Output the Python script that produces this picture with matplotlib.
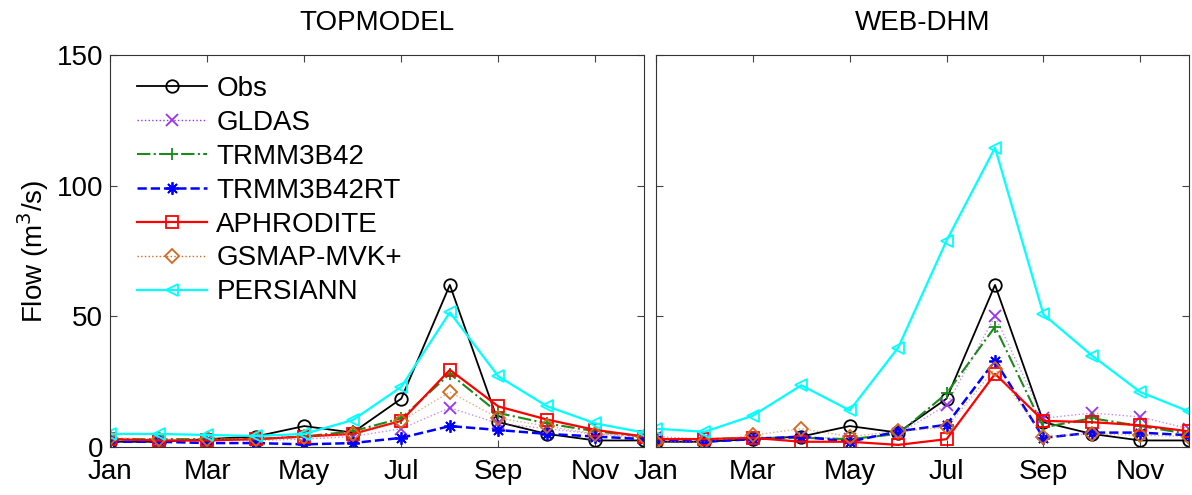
import numpy as np
import matplotlib
matplotlib.use("Agg")
import matplotlib.pyplot as plt
from matplotlib.lines import Line2D

plt.rcParams['font.family'] = ['Liberation Sans', 'DejaVu Sans']

months = np.arange(1, 13)
tick_months = [1, 3, 5, 7, 9, 11]
tick_labels = ['Jan', 'Mar', 'May', 'Jul', 'Sep', 'Nov']
panel_titles = ['TOPMODEL', 'WEB-DHM']

# monthly mean flow (m3/s)
obs = [2, 2, 3, 4, 8, 5.5, 18.5, 62, 9.5, 5, 2.5, 2.5]

topmodel = {
    'GLDAS':      [2.5, 2.5, 2.5, 2.5, 3, 4, 7, 15, 9, 7, 5, 3.5],
    'TRMM3B42':   [3, 3, 3, 3, 4, 6, 11, 28, 13, 9, 6, 4],
    'TRMM3B42RT': [2, 2, 1.5, 1.5, 1, 1.5, 3.5, 8, 6.5, 5, 4, 3],
    'APHRODITE':  [3, 2.5, 2.5, 3, 4, 5, 10, 29.5, 15.5, 10.5, 6.5, 4],
    'GSMAP-MVK+': [3.5, 3, 3, 3, 4, 5, 10, 21, 11, 8, 5, 4],
    'PERSIANN':   [5, 5, 4.6, 4.2, 5, 10.3, 23, 51.5, 27, 15.6, 9, 5.5],
}

webdhm = {
    'GLDAS':      [4, 3, 3.5, 4, 3, 5, 16, 50, 11, 13, 11.5, 7],
    'TRMM3B42':   [3, 3, 3.5, 3.5, 3, 5, 20.5, 46, 7.5, 11, 8, 5],
    'TRMM3B42RT': [2.5, 2, 3, 4, 2, 6, 8.5, 33, 3.5, 5.5, 5.5, 4.5],
    'APHRODITE':  [3, 3, 3.5, 2, 2, 0.8, 3, 28, 10, 9.5, 8.3, 6],
    'GSMAP-MVK+': [2, 2, 4.5, 7, 4, 6, 7.5, 30, 4, 5, 4.5, 4],
    'PERSIANN':   [7, 5.8, 12, 23.6, 14, 38, 79, 114.5, 50.7, 35, 21, 13.6],
}

# line style per series: color, linestyle, marker, linewidth
styles = {
    'Obs':        ('black', '-', 'o', 1.3),
    'GLDAS':      ('#9933ee', ':', 'x', 1.0),
    'TRMM3B42':   ('#1a8a1a', '-.', '+', 1.5),
    'TRMM3B42RT': ('blue', '--', (8, 2, 0), 1.8),
    'APHRODITE':  ('red', '-', 's', 1.6),
    'GSMAP-MVK+': ('#d2691e', ':', 'D', 1.0),
    'PERSIANN':   ('cyan', '-', '<', 1.6),
}


def marker_size(mk):
    if mk == 'D':
        return 7
    if mk in ('x', '+'):
        return 8
    return 9


fig = plt.figure(figsize=(11.92, 4.95), dpi=100)
ax1 = fig.add_axes([0.0923, 0.097, 0.448, 0.792])
ax2 = fig.add_axes([0.5503, 0.097, 0.447, 0.792])

for ax, sims, title in zip([ax1, ax2], [topmodel, webdhm], panel_titles):
    series = {'Obs': obs}
    series.update(sims)
    for name, vals in series.items():
        c, ls, mk, lw = styles[name]
        line_alpha = 0.55 if name in ('GLDAS', 'GSMAP-MVK+') else 1.0
        ax.plot(months, vals, color=c, ls=ls, lw=lw, alpha=line_alpha)
        ax.plot(months, vals, color=c, ls='none', marker=mk,
                ms=marker_size(mk), mfc='none', mec=c, mew=1.3)
    ax.set_xlim(1, 12)
    ax.set_ylim(0, 150)
    ax.set_xticks(tick_months)
    ax.set_xticklabels(tick_labels)
    ax.set_yticks([0, 50, 100, 150])
    ax.tick_params(direction='in', top=True, right=True, labelsize=20,
                   length=5, color='#444444')
    ax.tick_params(axis='x', pad=9)
    ax.tick_params(axis='y', pad=5)
    ax.set_title(title, fontsize=20, pad=18)
    for sp in ax.spines.values():
        sp.set_color('#333333')

ax2.set_yticklabels([])
ax1.set_ylabel('Flow (m$^3$/s)', fontsize=20, labelpad=4)

# legend: line + open marker per series
names = ['Obs'] + list(topmodel.keys())
handles = []
for name in names:
    c, ls, mk, lw = styles[name]
    handles.append(Line2D([], [], color=c, ls=ls, lw=lw, marker=mk,
                          ms=marker_size(mk), mfc='none', mec=c, mew=1.3))
ax1.legend(handles, names, loc='upper left', frameon=False, fontsize=20,
           handlelength=2.5, handletextpad=0.35, labelspacing=0.285,
           borderaxespad=0.0, bbox_to_anchor=(0.03, 0.975))

fig.savefig('out.png', dpi=100)
